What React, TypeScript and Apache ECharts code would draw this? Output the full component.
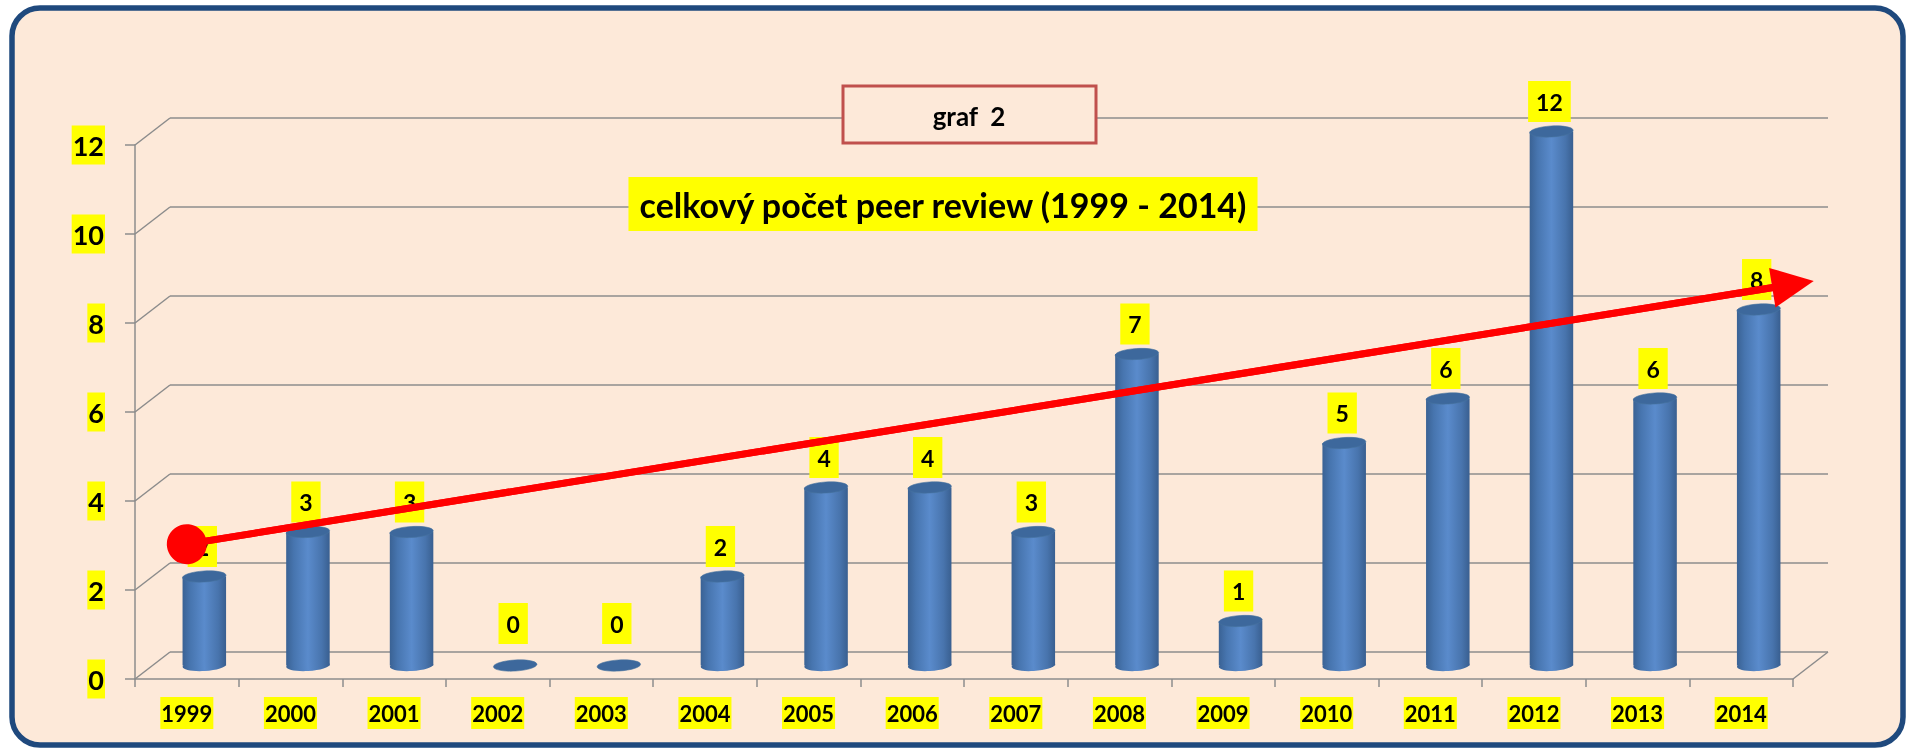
import React, { useEffect, useRef } from "react";
import * as echarts from "echarts";

const years = ["1999", "2000", "2001", "2002", "2003", "2004", "2005", "2006", "2007", "2008", "2009", "2010", "2011", "2012", "2013", "2014"];
const counts = [2, 3, 3, 0, 0, 2, 4, 4, 3, 7, 1, 5, 6, 12, 6, 8];
const yTicks = [0, 2, 4, 6, 8, 10, 12];
// hand-drawn trend arrow (start at 1999, ends past 2014)
const trendX = [0, 15.5];
const trendY = [3.03, 8.87];

const titleText = "graf  2";
const subtitleText = "celkový počet peer review (1999 - 2014)";

const GRAY = "#8C8C8C";
const YELLOW = "#FFFF00";
const FONT = "Lato, 'Open Sans', sans-serif";
const DEPTH_X = 35;
const DEPTH_Y = 27;

export default function App() {
  const ref = useRef<HTMLDivElement>(null);
  useEffect(() => {
    if (!ref.current) return;
    const chart = echarts.init(ref.current, null, { renderer: "svg" });

    const bodyGrad = () =>
      new echarts.graphic.LinearGradient(0, 0, 1, 0, [
        { offset: 0, color: "#3A6294" },
        { offset: 0.18, color: "#4775AF" },
        { offset: 0.5, color: "#5A8BCC" },
        { offset: 0.82, color: "#4874AD" },
        { offset: 1, color: "#395F90" },
      ]);

    const option: any = {
      animation: false,
      textStyle: { fontFamily: FONT },
      grid: [
        { left: 135, top: 145, width: 1658, height: 534 },
        { left: 135 + DEPTH_X / 2, top: 145 - DEPTH_Y / 2, width: 1658, height: 534 },
        { left: 135 + DEPTH_X, top: 145 - DEPTH_Y, width: 1658, height: 534 },
      ],
      xAxis: [
        {
          gridIndex: 0,
          type: "category",
          data: years,
          axisLine: { show: true, onZero: false, lineStyle: { color: GRAY, width: 1.5 } },
          axisTick: { show: true, length: 8, interval: 0, lineStyle: { color: GRAY, width: 1.5 } },
          axisLabel: {
            interval: 0,
            margin: 18,
            color: "#000",
            fontSize: 22,
            fontWeight: "bold",
            fontFamily: FONT,
            backgroundColor: YELLOW,
            padding: [5, 1],
          },
        },
        { gridIndex: 0, type: "value", min: -0.5, max: 15.5, show: false },
        { gridIndex: 1, type: "category", data: years, show: false },
        { gridIndex: 2, type: "category", data: years, show: false },
      ],
      yAxis: [
        {
          gridIndex: 0,
          type: "value",
          min: 0,
          max: 12,
          interval: 2,
          axisLine: { show: true, onZero: false, lineStyle: { color: GRAY, width: 1.5 } },
          axisTick: { show: true, length: 10, lineStyle: { color: GRAY, width: 1.5 } },
          splitLine: { show: false },
          axisLabel: {
            margin: 30,
            color: "#000",
            fontSize: 27,
            fontWeight: "bold",
            fontFamily: FONT,
            backgroundColor: YELLOW,
            padding: [6, 1],
          },
        },
        { gridIndex: 1, type: "value", min: 0, max: 12, show: false },
        {
          gridIndex: 2,
          type: "value",
          min: 0,
          max: 12,
          interval: 2,
          axisLine: { show: false },
          axisTick: { show: false },
          axisLabel: { show: false },
          splitLine: { show: true, lineStyle: { color: GRAY, width: 1.5 } },
        },
      ],
      graphic: [
        {
          type: "rect",
          z: -10,
          silent: true,
          shape: { x: 12, y: 8, width: 1891, height: 737, r: 28 },
          style: { fill: "#FDE9D9", stroke: "#1F497D", lineWidth: 5.5 },
        },
        {
          type: "rect",
          z: 50,
          silent: true,
          shape: { x: 843, y: 86, width: 253, height: 57 },
          style: { fill: "#FDE9D9", stroke: "#C0504D", lineWidth: 3 },
        },
        {
          type: "text",
          z: 51,
          silent: true,
          x: 969,
          y: 116,
          style: {
            text: titleText,
            fontSize: 26,
            fontWeight: "bold",
            fontFamily: FONT,
            fill: "#000",
            align: "center",
            verticalAlign: "middle",
          },
        },
        {
          type: "text",
          z: 51,
          silent: true,
          x: 943,
          y: 204,
          style: {
            text: subtitleText,
            fontSize: 34,
            lineHeight: 34,
            fontWeight: "bold",
            fontFamily: FONT,
            fill: "#000",
            backgroundColor: YELLOW,
            padding: [10, 10],
            align: "center",
            verticalAlign: "middle",
          },
        },
      ],
      series: [
        {
          type: "custom",
          name: "frame",
          xAxisIndex: 1,
          yAxisIndex: 0,
          silent: true,
          z: 1,
          data: yTicks.map((v) => [-0.5, v]).concat([[15.5, 0]]),
          renderItem: (params: any, api: any) => {
            const p = api.coord([api.value(0), api.value(1)]);
            return {
              type: "line",
              shape: { x1: p[0], y1: p[1], x2: p[0] + DEPTH_X, y2: p[1] - DEPTH_Y },
              style: { stroke: GRAY, lineWidth: 1.5 },
            };
          },
        },
        {
          type: "custom",
          name: "peer review",
          xAxisIndex: 2,
          yAxisIndex: 1,
          silent: true,
          z: 3,
          data: counts.map((v, i) => [i, v]),
          encode: { x: 0, y: 1 },
          renderItem: (params: any, api: any) => {
            const i = api.value(0);
            const v = api.value(1);
            const top = api.coord([i, v]);
            const base = api.coord([i, 0]);
            const band = api.size([1, 0])[0];
            const w = band * 0.42;
            const rx = w / 2;
            const ry = 5.5;
            const cx = top[0];
            const children: any[] = [];
            if (v > 0) {
              children.push({
                type: "rect",
                shape: { x: cx - rx, y: top[1], width: w, height: base[1] - top[1] },
                style: { fill: bodyGrad() },
              });
              children.push({
                type: "ellipse",
                x: cx,
                y: base[1],
                rotation: 0.06,
                shape: { cx: 0, cy: 0, rx, ry },
                style: { fill: bodyGrad() },
              });
            }
            children.push({
              type: "ellipse",
              x: cx,
              y: top[1],
              rotation: 0.06,
              shape: { cx: 0, cy: 0, rx, ry },
              style: { fill: "#3D689C", stroke: "#46739F", lineWidth: 0.6 },
            });
            children.push({
              type: "text",
              x: cx - 2,
              y: top[1] - (v === 0 ? 42 : 30),
              style: {
                text: String(v),
                fontSize: 23,
                fontWeight: "bold",
                fontFamily: FONT,
                fill: "#000",
                backgroundColor: YELLOW,
                padding: [9, 8],
                align: "center",
                verticalAlign: "middle",
              },
            });
            return { type: "group", children };
          },
        },
        {
          type: "line",
          name: "trend",
          xAxisIndex: 1,
          yAxisIndex: 0,
          z: 10,
          silent: true,
          symbol: "none",
          data: trendX.map((x, i) => [x, trendY[i]]),
          lineStyle: { color: "#FF0000", width: 7 },
          markLine: {
            silent: true,
            z: 10,
            symbol: ["circle", "triangle"],
            symbolSize: [40, 42],
            label: { show: false },
            emphasis: { disabled: true },
            lineStyle: { color: "#FF0000", width: 7, type: "solid" },
            data: [
              [
                { coord: [trendX[0], trendY[0]] },
                { coord: [trendX[1], trendY[1]] },
              ],
            ],
          },
        },
      ],
    };
    chart.setOption(option);
    return () => chart.dispose();
  }, []);

  return (
    <div
      ref={ref}
      style={{ position: "fixed", left: 0, top: 0, width: 1910, height: 748 }}
    />
  );
}
